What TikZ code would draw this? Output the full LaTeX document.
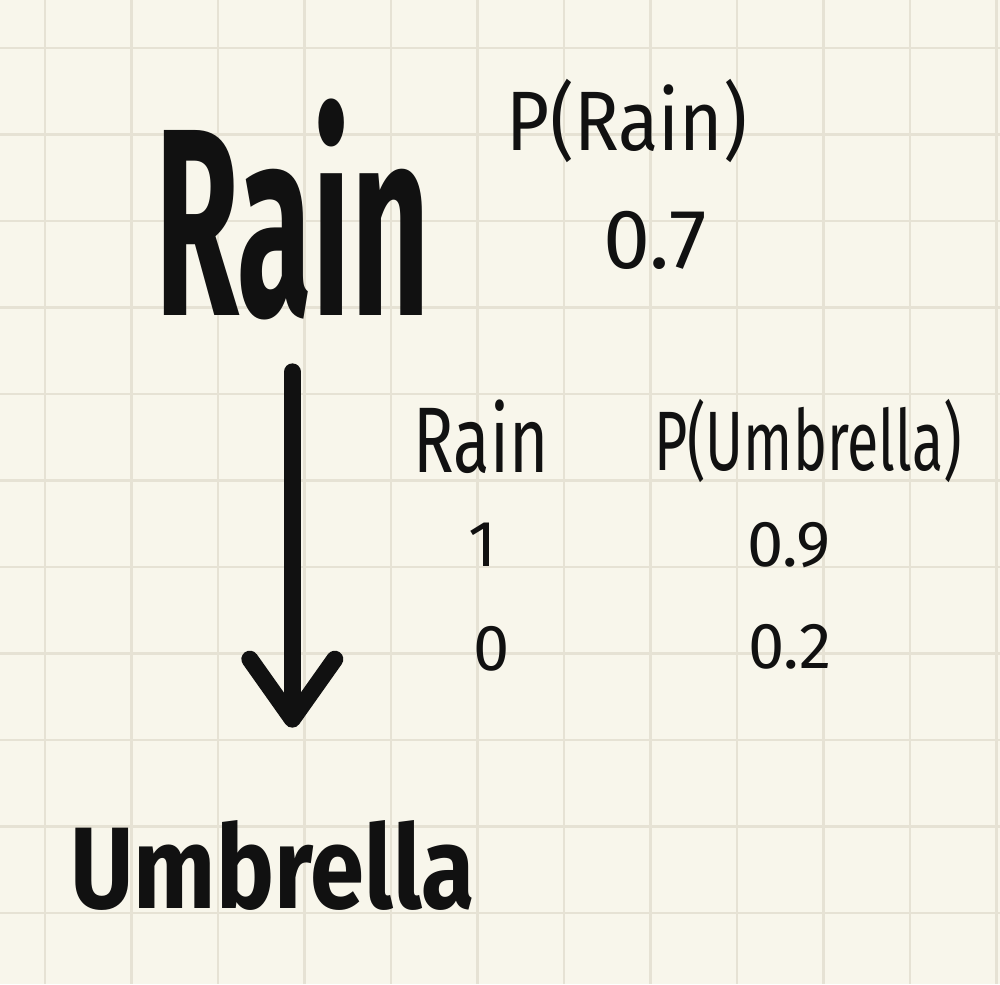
\documentclass[tikz,border=0pt]{standalone}
\usepackage{fontspec}
\setmainfont{Fira Sans}
\usetikzlibrary{arrows.meta}
\definecolor{paper}{HTML}{F8F6EB}
\definecolor{gridline}{HTML}{E6E2D4}
\definecolor{ink}{HTML}{111111}

\begin{document}
\begin{tikzpicture}[x=0.02cm, y=-0.02cm,
    bigword/.style={ink, inner sep=0, anchor=base west, font=\bfseries\fontsize{152}{152}\selectfont},
    tabword/.style={ink, inner sep=0, anchor=base, font=\fontsize{48}{48}\selectfont},
    digit/.style={ink, inner sep=0, anchor=base, font=\fontsize{37}{37}\selectfont},
    bigarrow/.style={ink, line width=0.34cm, line cap=round,
      -{Straight Barb[length=1.2cm, width=1.7cm, round]}}]
  \fill[paper] (0,0) rectangle (1000,984);
  \useasboundingbox (0,0) rectangle (1000,984);
  \foreach \k in {0,...,11}
    \draw[gridline, line width=1.6pt] ({45+86.5*\k},0) -- ({45+86.5*\k},984);
  \foreach \k in {0,...,10}
    \draw[gridline, line width=1.6pt] (0,{48+86.5*\k}) -- (1000,{48+86.5*\k});

  \node[bigword, xscale=0.51] (rain) at (155,315) {Rain};
  \node[bigword, font=\bfseries\fontsize{66}{66}\selectfont, xscale=0.84] (umbrella) at (70,908) {Umbrella};
  \draw[bigarrow, shorten <=1.04cm, shorten >=1.84cm] (rain.south) -- (rain.south |- umbrella.north);

  \node[tabword, xscale=0.88] (prain) at (627,150) {P(Rain)};
  \node[tabword] (prainval) at (655,268) {0.7};

  \node[tabword, font=\fontsize{53}{53}\selectfont, xscale=0.72] (rainhdr) at (481,472) {Rain};
  \node[tabword, xscale=0.68] (umbhdr) at (808,470) {P(Umbrella)};
  \node[digit] (rainone) at (483,566) {1};
  \node[digit] (rainzero) at (492,670) {0};
  \node[digit] (umbone) at (789,566) {0.9};
  \node[digit] (umbzero) at (790,668) {0.2};
\end{tikzpicture}
\end{document}
